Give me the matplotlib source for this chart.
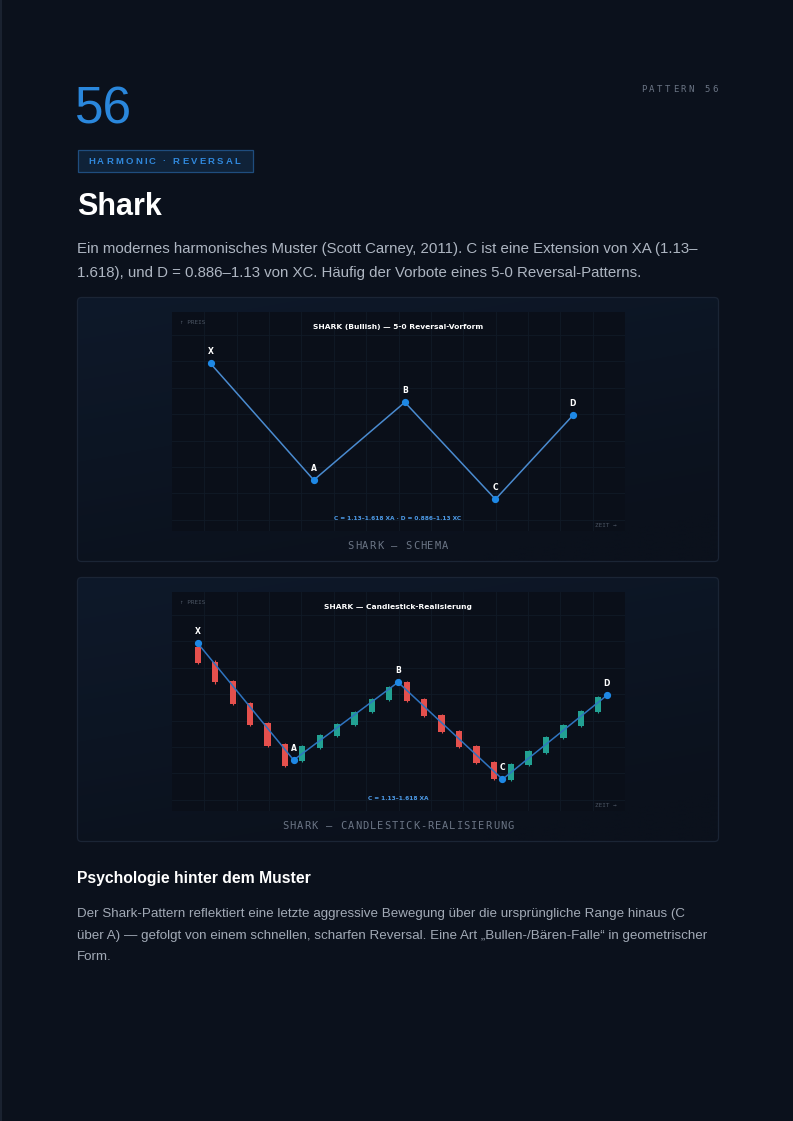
import matplotlib
matplotlib.use("Agg")
import matplotlib.pyplot as plt
import numpy as np
from matplotlib.patches import FancyBboxPatch, Rectangle

# ---------------- data ----------------
pivot_labels = ["X", "A", "B", "C", "D"]
schema_x = [8.5, 31.3, 51.4, 71.4, 88.5]
schema_y = [76.4, 22.9, 58.6, 14.1, 52.6]

candle_pivot_x = [0, 5.5, 11.5, 17.5, 23.5]
candle_pivot_y = [76.4, 22.9, 58.6, 14.1, 52.6]

candle_open = [74.6, 68.0, 59.2, 49.2, 39.8, 30.1,
               22.6, 28.6, 33.9, 39.0, 44.8, 50.5,
               58.9, 50.9, 43.6, 36.4, 29.5, 22.0,
               13.8, 20.6, 26.3, 32.9, 38.5, 45.1]
candle_close = [67.6, 58.6, 48.8, 39.0, 29.5, 20.3,
                29.4, 34.5, 39.4, 45.0, 50.8, 56.3,
                50.1, 43.1, 35.9, 29.0, 21.7, 14.1,
                21.1, 26.9, 33.5, 39.1, 45.6, 52.0]
candle_high = [75.2, 68.6, 59.6, 49.7, 40.2, 30.6,
               29.8, 35.0, 39.9, 45.4, 51.2, 56.7,
               59.3, 51.4, 44.0, 36.8, 30.0, 22.5,
               21.6, 27.4, 33.9, 39.6, 46.0, 52.4]
candle_low = [67.0, 57.9, 48.3, 38.5, 29.0, 19.7,
              22.2, 28.1, 33.5, 38.5, 44.4, 50.0,
              49.7, 42.7, 35.5, 28.6, 21.2, 13.6,
              13.3, 20.2, 25.8, 32.4, 38.1, 44.6]

# ---------------- style ----------------
W, H = 793, 1121
BG = "#0b111c"
INNER = "#0a0f19"
GRID = "#111a27"
BLUE = "#2a87dc"
LINE1 = "#4a8bd0"
LINE2 = "#2f74c0"
DOT = "#1e88e5"
RED = "#e5504d"
GREEN = "#22a193"
SANS = ["Liberation Sans", "DejaVu Sans"]
MONO = ["DejaVu Sans Mono"]

fig = plt.figure(figsize=(W / 100, H / 100), dpi=100, facecolor=BG)
bg = fig.add_axes([0, 0, 1, 1])
bg.set_xlim(0, W)
bg.set_ylim(H, 0)
bg.axis("off")
bg.set_facecolor(BG)

renderer = fig.canvas.get_renderer()


def spaced(x, y, s, spacing, ha="left", **kw):
    """Draw letter-spaced text (baseline aligned) in pixel coordinates."""
    def width(t):
        if not t:
            return 0.0
        tt = bg.text(0, 0, t + "|", **kw)
        w = tt.get_window_extent(renderer).width
        tt.remove()
        tb = bg.text(0, 0, "|", **kw)
        wb = tb.get_window_extent(renderer).width
        tb.remove()
        return w - wb
    total = width(s) + spacing * (len(s) - 1)
    if ha == "right":
        x0 = x - total
    elif ha == "center":
        x0 = x - total / 2
    else:
        x0 = x
    for i, ch in enumerate(s):
        bg.text(x0 + width(s[:i]) + spacing * i, y, ch, ha="left",
                va="baseline", **kw)


# left page border
bg.add_patch(Rectangle((0, 0), 1.5, H, color="#1a2230", lw=0))

# header
bg.text(75, 123, "56", fontsize=37, color=BLUE, family=SANS, va="baseline")
spaced(718, 91.5, "PATTERN 56", 2.6, ha="right", fontsize=6.5, color="#6b7585",
       family=MONO)

# badge
bg.add_patch(Rectangle((77.5, 149.5), 175, 22.5, facecolor="#0f2238",
                       edgecolor="#1f4d7e", lw=0.9))
spaced(88, 164.5, "HARMONIC · REVERSAL", 2.2, fontsize=6.8, color="#3088dc",
       family=SANS, fontweight="bold")

bg.text(77, 215, "Shark", fontsize=22, fontweight="bold", color="white",
        family=SANS, va="baseline")

intro = ["Ein modernes harmonisches Muster (Scott Carney, 2011). C ist eine Extension von XA (1.13–",
         "1.618), und D = 0.886–1.13 von XC. Häufig der Vorbote eines 5-0 Reversal-Patterns."]
for i, ln in enumerate(intro):
    bg.text(77, 253.5 + 24 * i, ln, fontsize=10.8, color="#aeb6c2", family=SANS,
            va="baseline")

# panels
for top in (297, 577):
    patch = FancyBboxPatch((77.5, top + 0.5), 641, 264,
                           boxstyle="round,pad=0,rounding_size=4",
                           facecolor="none", edgecolor="#1b2535", lw=0.9, zorder=2)
    bg.add_patch(patch)
    gx = np.linspace(0, 1, 200)
    gy = np.linspace(0, 1, 80)
    GX, GY = np.meshgrid(gx, gy)
    t = np.clip(0.35 * GX + 0.8 * GY, 0, 1)
    c0 = np.array([0x0e, 0x19, 0x2a]) / 255
    c1 = np.array([0x0b, 0x11, 0x1c]) / 255
    img = c0[None, None, :] * (1 - t[..., None]) + c1[None, None, :] * t[..., None]
    im = bg.imshow(img, extent=[77.5, 718.5, top + 264.5, top + 0.5],
                   aspect="auto", zorder=1, interpolation="bilinear")
    im.set_clip_path(patch)

bg.set_xlim(0, W)
bg.set_ylim(H, 0)

# captions
spaced(398, 549, "SHARK — SCHEMA", 1.0, ha="center", fontsize=7.5,
       color="#6b7585", family=MONO)
spaced(398, 829, "SHARK — CANDLESTICK-REALISIERUNG", 1.0, ha="center",
       fontsize=7.5, color="#6b7585", family=MONO)


def inner_axes(top):
    left, right, bottom = 172, 625, top + 219
    ax = fig.add_axes([left / W, 1 - bottom / H, (right - left) / W, 219 / H])
    ax.set_facecolor(INNER)
    for sp in ax.spines.values():
        sp.set_visible(False)
    ax.set_xticks([])
    ax.set_yticks([])
    for k in range(1, 14):
        ax.plot([k / 14, k / 14], [0, 1], color=GRID, lw=0.6, zorder=0,
                transform=ax.transAxes)
    for k in range(8):
        yf = 1 - (23 + 26.4 * k) / 219
        ax.plot([0, 1], [yf, yf], color=GRID, lw=0.6, zorder=0,
                transform=ax.transAxes)
    ax.text(0.018, 0.954, "↑ PREIS", transform=ax.transAxes, fontsize=4.3,
            color="#4b5563", family=MONO, va="center", ha="left")
    ax.text(0.982, 0.027, "ZEIT →", transform=ax.transAxes, fontsize=4.3,
            color="#4b5563", family=MONO, va="center", ha="right")
    return ax


# chart 1: schema
ax1 = inner_axes(312)
ax1.set_xlim(0, 100)
ax1.set_ylim(-0.46, 100)
ax1.plot(schema_x, schema_y, color=LINE1, lw=1.1, zorder=3)
ax1.plot(schema_x, schema_y, "o", color=DOT, ms=4.2, zorder=4)
for lab, x, y in zip(pivot_labels, schema_x, schema_y):
    ax1.annotate(lab, (x, y), xytext=(0, 8.5), textcoords="offset points",
                 ha="center", va="center", fontsize=5.5, fontweight="bold",
                 color="white", family=["DejaVu Sans"])
ax1.text(0.499, 0.931, "SHARK (Bullish) — 5-0 Reversal-Vorform",
         transform=ax1.transAxes, ha="center", va="center", fontsize=5.4,
         fontweight="bold", color="white", family=["DejaVu Sans"])
ax1.text(0.499, 0.059, "C = 1.13–1.618 XA · D = 0.886–1.13 XC",
         transform=ax1.transAxes, ha="center", va="center", fontsize=4.2,
         fontweight="bold", color="#4d9be8", family=["DejaVu Sans"])

# chart 2: candles
ax2 = inner_axes(592)
ax2.set_xlim(-1.49, 24.54)
ax2.set_ylim(-0.46, 100)
idx = np.arange(len(candle_open))
o = np.array(candle_open)
c = np.array(candle_close)
cols = [GREEN if cc >= oo else RED for oo, cc in zip(o, c)]
ax2.vlines(idx, candle_low, candle_high, colors=cols, lw=0.8, zorder=2)
ax2.bar(idx, np.abs(c - o), bottom=np.minimum(o, c), width=0.36, color=cols,
        zorder=2)
ax2.plot(candle_pivot_x, candle_pivot_y, color=LINE2, lw=1.1, zorder=3)
ax2.plot(candle_pivot_x, candle_pivot_y, "o", color=DOT, ms=4.2, zorder=4)
for lab, x, y in zip(pivot_labels, candle_pivot_x, candle_pivot_y):
    ax2.annotate(lab, (x, y), xytext=(0, 8.5), textcoords="offset points",
                 ha="center", va="center", fontsize=5.5, fontweight="bold",
                 color="white", family=["DejaVu Sans"])
ax2.text(0.499, 0.931, "SHARK — Candlestick-Realisierung",
         transform=ax2.transAxes, ha="center", va="center", fontsize=5.4,
         fontweight="bold", color="white", family=["DejaVu Sans"])
ax2.text(0.499, 0.059, "C = 1.13–1.618 XA",
         transform=ax2.transAxes, ha="center", va="center", fontsize=4.2,
         fontweight="bold", color="#4d9be8", family=["DejaVu Sans"])

# psychology section
bg.text(77, 883, "Psychologie hinter dem Muster", fontsize=11.3,
        fontweight="bold", color="white", family=SANS, va="baseline")
psych = ["Der Shark-Pattern reflektiert eine letzte aggressive Bewegung über die ursprüngliche Range hinaus (C",
         "über A) — gefolgt von einem schnellen, scharfen Reversal. Eine Art „Bullen-/Bären-Falle“ in geometrischer",
         "Form."]
for i, ln in enumerate(psych):
    bg.text(77, 917 + 21.5 * i, ln, fontsize=9.65, color="#a2aab6", family=SANS,
            va="baseline")

fig.savefig("out.png", dpi=100, facecolor=BG)
